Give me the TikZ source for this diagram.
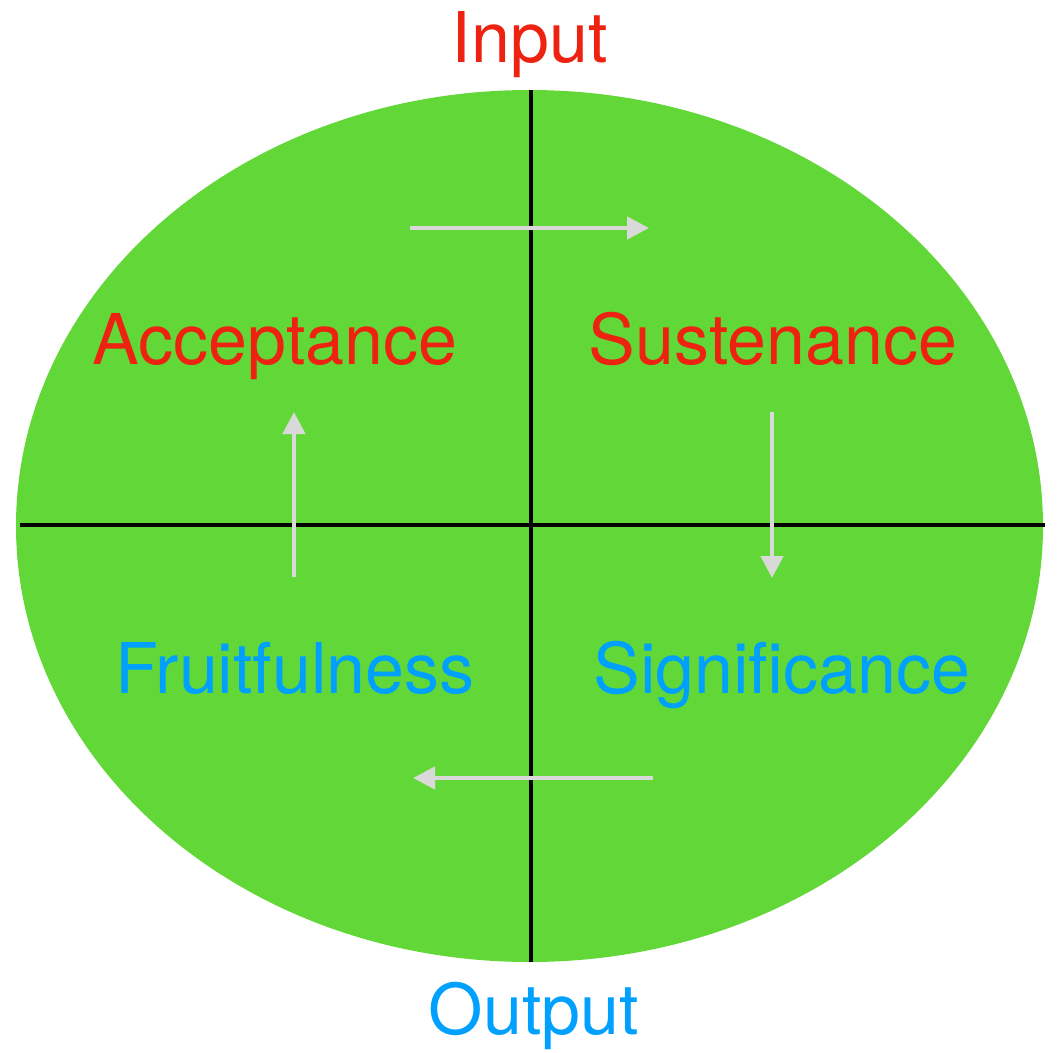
\documentclass[tikz,border=0pt]{standalone}
\usepackage{fontspec}
\setmainfont{TeX Gyre Heros}
\usetikzlibrary{arrows.meta}
\definecolor{leaf}{RGB}{98,216,56}
\definecolor{redtxt}{RGB}{238,34,17}
\definecolor{bluetxt}{RGB}{0,160,255}
\definecolor{arrowgray}{RGB}{217,217,217}
\begin{document}
\begin{tikzpicture}[x=1pt,y=-1pt,
  lbl/.style={anchor=base,inner sep=0pt,font=\fontsize{70}{82}\selectfont},
  redlbl/.style={lbl,text=redtxt},
  bluelbl/.style={lbl,text=bluetxt},
  axis/.style={line width=4pt,black},
  flow/.style={line width=4.5pt,arrowgray,-{Triangle[width=22pt,length=22pt]}}]
\useasboundingbox (0,0) rectangle (1057,1052);
\fill[leaf] (529.5,526) ellipse [x radius=513.5, y radius=436];
\coordinate (vt) at (531,90);
\coordinate (vb) at (531,962);
\coordinate (hl) at (20,525);
\coordinate (hr) at (1045,525);
\draw[axis] (vt) -- (vb);
\draw[axis] (hl) -- (hr);
\coordinate (a1s) at (410,228); \coordinate (a1e) at (649,228);
\coordinate (a2s) at (772,412); \coordinate (a2e) at (772,578);
\coordinate (a3s) at (653,778); \coordinate (a3e) at (413,778);
\coordinate (a4s) at (294,577); \coordinate (a4e) at (294,412);
\draw[flow] (a1s) -- (a1e);
\draw[flow] (a2s) -- (a2e);
\draw[flow] (a3s) -- (a3e);
\draw[flow] (a4s) -- (a4e);
\node[redlbl] (input) at (530,62) {Input};
\node[redlbl] (accept) at (275,364) {Acceptance};
\node[redlbl] (susten) at (773,364) {Sustenance};
\node[bluelbl] (fruit) at (295,693) {Fruitfulness};
\node[bluelbl] (signif) at (782,693) {Significance};
\node[bluelbl] (output) at (534,1034) {Output};
\end{tikzpicture}
\end{document}
